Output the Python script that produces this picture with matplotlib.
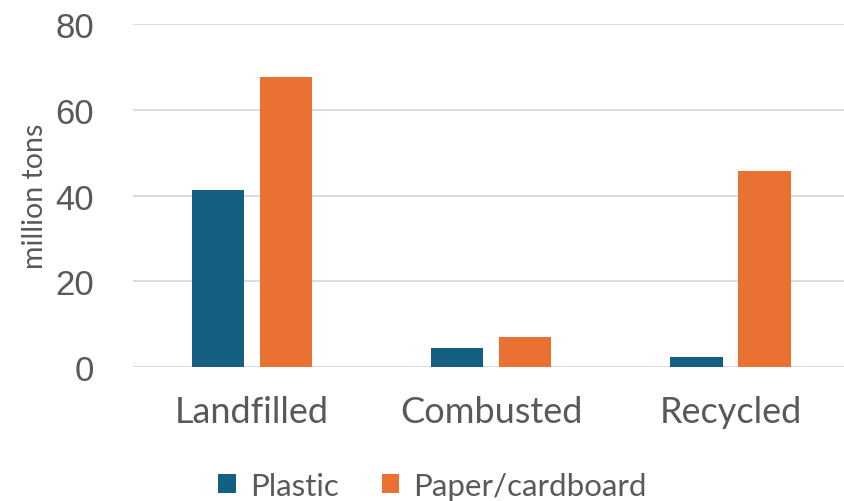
import numpy as np
import matplotlib.pyplot as plt

categories = ["Landfilled", "Combusted", "Recycled"]
plastic = [41.4, 4.4, 2.3]
paper = [67.7, 7.1, 45.7]
series_names = ["Plastic", "Paper/cardboard"]

blue = "#156082"
orange = "#E97132"
grey = "#595959"

fig = plt.figure(figsize=(8.45, 5.02), dpi=100)
ax = fig.add_axes([0.157, 0.267, 0.849, 0.683])

x = np.arange(len(categories))
w = 0.218
off = 0.142
b1 = ax.bar(x - off, plastic, w, color=blue, label=series_names[0], zorder=3)
b2 = ax.bar(x + off, paper, w, color=orange, label=series_names[1], zorder=3)

ax.set_xlim(-0.5, 2.5)
ax.set_ylim(0, 80)
ax.set_yticks([0, 20, 40, 60, 80])
ax.yaxis.grid(True, color="#D9D9D9", linewidth=1.3, zorder=0)
ax.set_axisbelow(True)
for s in ax.spines.values():
    s.set_visible(False)
ax.tick_params(axis="both", length=0)
ax.tick_params(axis="y", labelsize=25, labelcolor=grey, pad=28)
ax.tick_params(axis="x", labelsize=26, labelcolor=grey, pad=20)
for t in ax.get_yticklabels():
    t.set_fontfamily("Liberation Sans")
ax.set_xticks(x)
ax.set_xticklabels(categories, fontfamily="Lato")
ax.set_ylabel("million tons", fontsize=20.5, color=grey, fontfamily="Lato", labelpad=5)

fig.legend(handles=[b1, b2], labels=series_names, loc="center", bbox_to_anchor=(0.512, 0.03),
           ncol=2, frameon=False, prop={"family": "Lato", "size": 22.5}, labelcolor=grey,
           handlelength=0.55, handleheight=0.55, handletextpad=0.45, columnspacing=1.4)

fig.savefig("out.png", dpi=100)
